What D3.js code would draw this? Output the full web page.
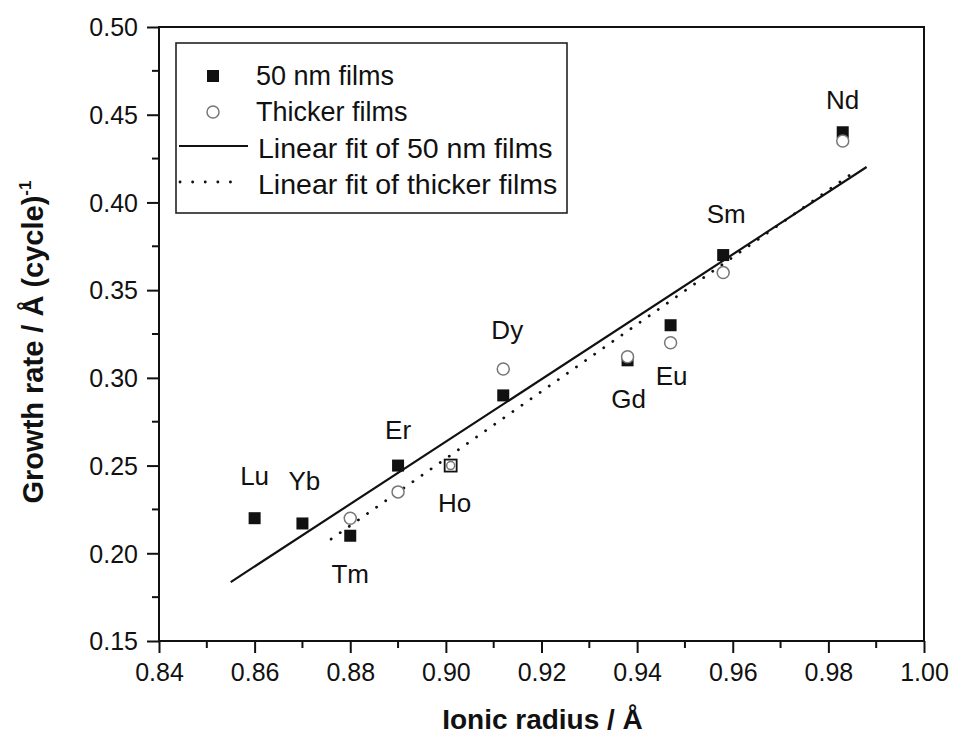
<!DOCTYPE html>
<html>
<head>
<meta charset="utf-8">
<script src="https://cdn.jsdelivr.net/npm/d3@7"></script>
<style>
  body { margin: 0; background: #fff; }
  svg text { font-family: "Liberation Sans", Arial, sans-serif; fill: #111; }
</style>
</head>
<body>
<script>
// data
const elements = ["Lu", "Yb", "Tm", "Er", "Ho", "Dy", "Gd", "Eu", "Sm", "Nd"];
const radius = [0.86, 0.87, 0.88, 0.89, 0.901, 0.912, 0.938, 0.947, 0.958, 0.983];
const rate50 = [0.22, 0.217, 0.21, 0.25, 0.25, 0.29, 0.31, 0.33, 0.37, 0.44];
// thicker films (no points for Lu, Yb)
const rateThick = [null, null, 0.22, 0.235, 0.25, 0.305, 0.312, 0.32, 0.36, 0.435];
// fit line end points
const fit50 = [[0.855, 0.1836], [0.988, 0.4202]];
const fitThick = [[0.876, 0.2081], [0.986, 0.4185]];
const xTicks = [0.84, 0.86, 0.88, 0.90, 0.92, 0.94, 0.96, 0.98, 1.00];
const yTicks = [0.15, 0.20, 0.25, 0.30, 0.35, 0.40, 0.45, 0.50];
// label offsets from the square marker (px)
const labelOff = [[0, -42], [2, -43], [0, 38], [0, -36], [4, 37], [4, -66], [1, 39], [1, 51], [3, -41], [0, -32]];

const W = 955, H = 738;
const p = { t: 27, r: 31, b: 97, l: 159 };

const svg = d3.select("body").append("svg").attr("width", W).attr("height", H);

const x = d3.scaleLinear().domain([0.84, 1.00]).range([p.l, W - p.r]);
const y = d3.scaleLinear().domain([0.15, 0.50]).range([H - p.b, p.t]);

// minor ticks
const xMinor = d3.range(0.85, 1.0, 0.02);
const yMinor = d3.range(0.175, 0.5, 0.05);

const xAxis = svg.append("g")
  .attr("transform", `translate(0, ${H - p.b})`)
  .call(d3.axisBottom(x).tickValues(xTicks).tickSize(12).tickPadding(8).tickFormat(d3.format(".2f")));
const yAxis = svg.append("g")
  .attr("transform", `translate(${p.l}, 0)`)
  .call(d3.axisLeft(y).tickValues(yTicks).tickSize(12).tickPadding(9).tickFormat(d3.format(".2f")));

[xAxis, yAxis].forEach((a) => {
  a.select(".domain").remove();
  a.selectAll("line").attr("stroke", "#111").attr("stroke-width", 2);
  a.selectAll("text").attr("font-size", 25).attr("fill", "#111")
    .style("font-family", '"Liberation Sans", Arial, sans-serif');
});
xAxis.selectAll("text").attr("dy", "0.8em");
yAxis.selectAll("text").attr("dy", "0.35em");

svg.append("g").selectAll("line").data(xMinor).enter().append("line")
  .attr("x1", (d) => x(d)).attr("x2", (d) => x(d))
  .attr("y1", H - p.b).attr("y2", H - p.b + 7)
  .attr("stroke", "#111").attr("stroke-width", 2);
svg.append("g").selectAll("line").data(yMinor).enter().append("line")
  .attr("y1", (d) => y(d)).attr("y2", (d) => y(d))
  .attr("x1", p.l).attr("x2", p.l - 7)
  .attr("stroke", "#111").attr("stroke-width", 2);

// frame
svg.append("rect")
  .attr("x", p.l).attr("y", p.t)
  .attr("width", W - p.r - p.l).attr("height", H - p.b - p.t)
  .attr("fill", "none").attr("stroke", "#111").attr("stroke-width", 2);

// axis titles
svg.append("text")
  .attr("x", (p.l + W - p.r) / 2 + 1).attr("y", 729)
  .attr("text-anchor", "middle").attr("font-size", 28).attr("font-weight", "bold")
  .text("Ionic radius / Å");

const yt = svg.append("text")
  .attr("transform", `translate(43, ${(p.t + H - p.b) / 2 + 8}) rotate(-90)`)
  .attr("text-anchor", "middle").attr("font-size", 29).attr("font-weight", "bold");
yt.append("tspan").text("Growth rate / Å (cycle)");
yt.append("tspan").attr("dy", -12).attr("font-size", 17).text("-1");

// fit lines
const line = d3.line().x((d) => x(d[0])).y((d) => y(d[1]));
svg.append("path").datum(fitThick).attr("d", line)
  .attr("fill", "none").attr("stroke", "#111").attr("stroke-width", 2.8)
  .attr("stroke-linecap", "round").attr("stroke-dasharray", "0.1,11");
svg.append("path").datum(fit50).attr("d", line)
  .attr("fill", "none").attr("stroke", "#111").attr("stroke-width", 2.2);

// 50 nm squares
const pts = elements.map((e, i) => ({ e, x: radius[i], a: rate50[i], b: rateThick[i], off: labelOff[i] }));
const sq = 12;
svg.append("g").selectAll("rect").data(pts).enter().append("rect")
  .attr("x", (d) => x(d.x) - sq / 2).attr("y", (d) => y(d.a) - sq / 2)
  .attr("width", sq).attr("height", sq)
  .attr("fill", (d) => (d.e === "Ho" ? "#fff" : "#111"))
  .attr("stroke", "#111").attr("stroke-width", (d) => (d.e === "Ho" ? 1.8 : 0));

// thicker film circles
svg.append("g").selectAll("circle").data(pts.filter((d) => d.b !== null)).enter().append("circle")
  .attr("cx", (d) => x(d.x)).attr("cy", (d) => y(d.b)).attr("r", (d) => (d.e === "Ho" ? 4 : 6))
  .attr("fill", "#fff").attr("stroke", "#777").attr("stroke-width", 1.5);

// element labels
svg.append("g").selectAll("text").data(pts).enter().append("text")
  .attr("x", (d) => x(d.x) + d.off[0]).attr("y", (d) => y(d.a) + d.off[1])
  .attr("dy", "0.35em").attr("text-anchor", "middle").attr("font-size", 26)
  .text((d) => d.e);

// legend
const lg = svg.append("g").attr("transform", "translate(176, 43)");
lg.append("rect").attr("width", 391).attr("height", 170)
  .attr("fill", "#fff").attr("stroke", "#222").attr("stroke-width", 1.6);
lg.append("rect").attr("x", 37 - sq / 2).attr("y", 33 - sq / 2).attr("width", sq).attr("height", sq).attr("fill", "#111");
lg.append("circle").attr("cx", 37).attr("cy", 69).attr("r", 6)
  .attr("fill", "#fff").attr("stroke", "#777").attr("stroke-width", 1.5);
lg.append("line").attr("x1", 3).attr("x2", 72).attr("y1", 103).attr("y2", 103)
  .attr("stroke", "#111").attr("stroke-width", 2.2);
lg.append("line").attr("x1", 4).attr("x2", 66).attr("y1", 139).attr("y2", 139)
  .attr("stroke", "#111").attr("stroke-width", 2.8)
  .attr("stroke-linecap", "round").attr("stroke-dasharray", "0.1,12.5");
const legTexts = ["50 nm films", "Thicker films", "Linear fit of 50 nm films", "Linear fit of thicker films"];
const legX = [80, 80, 82, 82];
const legSize = [27, 27, 28.5, 28.5];
lg.selectAll("text.leg").data(legTexts).enter().append("text")
  .attr("class", "leg")
  .attr("x", (d, i) => legX[i]).attr("y", (d, i) => 33 + i * 36)
  .attr("dy", "0.35em").attr("font-size", (d, i) => legSize[i])
  .text((d) => d);
</script>
</body>
</html>
